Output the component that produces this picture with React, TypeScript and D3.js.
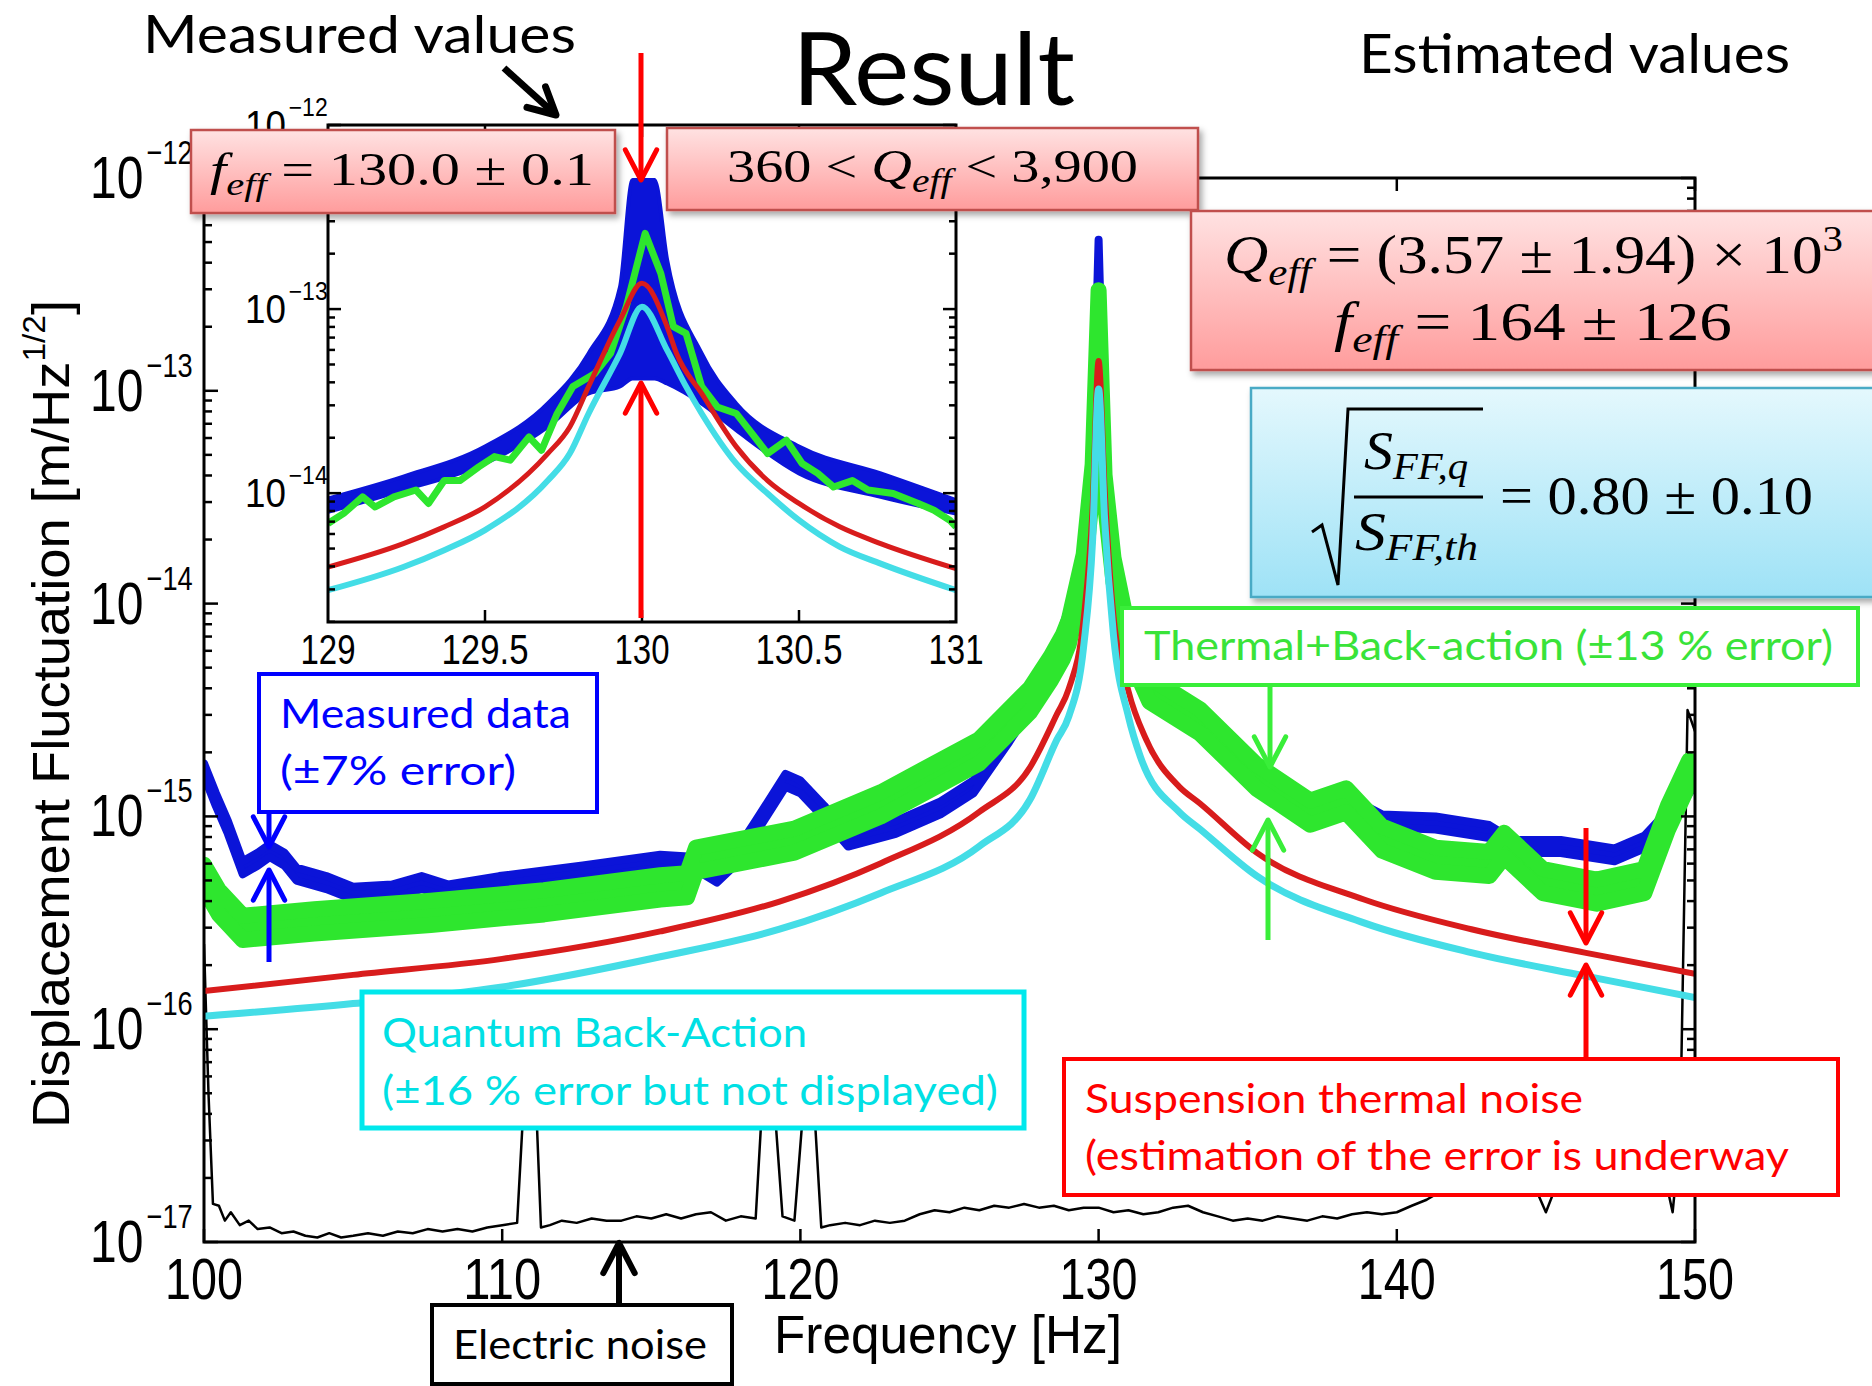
import React from "react";
import * as d3 from "d3";

// ---------- main plot (100 - 150 Hz), amplitudes in m/Hz^1/2 ----------
const measuredFreq = [100.0, 100.4, 100.8, 101.3, 101.8, 102.2, 102.7, 103.1, 104.1, 105.0, 106.3, 107.3, 108.2, 109.9, 112.7, 115.3, 116.5, 117.2, 117.8, 118.5, 119.5, 120.0, 120.8, 121.6, 123.2, 124.7, 125.8, 127.0, 128.0, 128.6, 129.0, 129.5, 129.8, 130.0, 130.2, 130.5, 131.0, 131.6, 132.7, 133.4, 135.3, 137.1, 138.3, 139.5, 141.3, 143.1, 143.9, 145.5, 147.3, 148.3, 149.1, 150.0];
const measuredAmp = [1.66e-15, 1.2e-15, 8.91e-16, 5.75e-16, 6.31e-16, 6.92e-16, 6.31e-16, 5.37e-16, 4.9e-16, 4.37e-16, 4.47e-16, 4.9e-16, 4.47e-16, 4.9e-16, 5.5e-16, 6.17e-16, 6.03e-16, 5.25e-16, 6.31e-16, 8.91e-16, 1.48e-15, 1.38e-15, 1.05e-15, 7.76e-16, 8.91e-16, 1.1e-15, 1.38e-15, 2.4e-15, 3.98e-15, 6.03e-15, 8.91e-15, 1.66e-14, 4.47e-14, 4.79e-13, 4.47e-14, 1.58e-14, 8.51e-15, 3.98e-15, 3.02e-15, 2.69e-15, 1.51e-15, 1.07e-15, 1.17e-15, 9.55e-16, 9.33e-16, 8.51e-16, 7.24e-16, 7.24e-16, 6.61e-16, 7.59e-16, 1.0e-15, 1.51e-15];
const measuredErr = 0.07;

// thermal + back-action
const fitFreq = [100.0, 100.5, 101.3, 103.7, 107.6, 111.4, 115.3, 116.2, 116.5, 119.8, 122.7, 126.0, 127.7, 128.4, 128.8, 129.0, 129.5, 129.8, 130.0, 130.2, 130.5, 131.0, 131.7, 133.4, 135.3, 137.1, 138.3, 139.5, 141.3, 143.1, 143.6, 144.9, 146.7, 148.3, 149.1, 149.8];
const fitAmp = [5.25e-16, 3.98e-16, 3.02e-16, 3.24e-16, 3.55e-16, 3.98e-16, 4.68e-16, 4.79e-16, 6.31e-16, 7.76e-16, 1.15e-15, 2.04e-15, 3.55e-15, 5.01e-15, 6.31e-15, 7.41e-15, 1.51e-14, 3.98e-14, 2.63e-13, 3.55e-14, 1.45e-14, 6.61e-15, 3.98e-15, 2.82e-15, 1.55e-15, 1.05e-15, 1.2e-15, 7.94e-16, 6.31e-16, 6.03e-16, 7.41e-16, 5.01e-16, 4.47e-16, 5.01e-16, 1.0e-15, 1.62e-15];
const fitErr = 0.13;

// suspension thermal noise
const thermalFreq = [100, 105, 110, 115.3, 119.3, 122.7, 126, 127.7, 128.6, 129, 129.5, 129.8, 130, 130.2, 130.5, 131, 131.6, 132.7, 133.4, 135.3, 138.9, 142.5, 146.3, 150];
const thermalAmp = [1.51e-16, 1.8e-16, 2.14e-16, 2.88e-16, 3.98e-16, 6.03e-16, 1.05e-15, 1.7e-15, 3.02e-15, 3.98e-15, 8.51e-15, 2.82e-14, 1.38e-13, 3.47e-14, 8.71e-15, 3.89e-15, 2.29e-15, 1.38e-15, 1.15e-15, 6.76e-16, 4.07e-16, 2.95e-16, 2.29e-16, 1.82e-16];

// quantum back-action
const backActionFreq = [100, 105, 110, 115.3, 119.3, 122.7, 126, 127.7, 128.6, 129, 129.5, 129.8, 130, 130.2, 130.5, 131, 131.4, 132.7, 133.4, 135.3, 138.9, 142.5, 146.3, 150];
const backActionAmp = [1.15e-16, 1.32e-16, 1.58e-16, 2.19e-16, 2.95e-16, 4.37e-16, 7.24e-16, 1.2e-15, 2.29e-15, 2.95e-15, 6.31e-15, 2e-14, 1.02e-13, 2.51e-14, 7.08e-15, 2.95e-15, 1.91e-15, 1.05e-15, 8.71e-16, 5.25e-16, 3.16e-16, 2.29e-16, 1.78e-16, 1.41e-16];

// electric noise [Hz, amplitude]
const noisePoints = [
  [100.0, 2.51e-16], [100.15, 5.01e-17], [100.3, 1.51e-17], [100.5, 1.48e-17], [100.7, 1.26e-17], [100.9, 1.38e-17],
  [101.2, 1.2e-17], [101.5, 1.26e-17], [101.8, 1.15e-17], [102.2, 1.17e-17], [102.6, 1.1e-17], [103.0, 1.12e-17],
  [103.4, 1.07e-17], [103.8, 1.05e-17], [104.2, 1.1e-17], [104.6, 1.05e-17], [105.0, 1.07e-17], [105.5, 1.1e-17],
  [106.0, 1.07e-17], [106.5, 1.12e-17], [107.0, 1.1e-17], [107.5, 1.15e-17], [108.0, 1.12e-17], [108.5, 1.15e-17],
  [109.0, 1.12e-17], [109.5, 1.17e-17], [110.0, 1.2e-17], [110.5, 1.23e-17], [110.7, 4.0e-17], [110.85, 1.1e-16],
  [111.0, 1.1e-16], [111.15, 4.0e-17], [111.3, 1.17e-17], [111.6, 1.2e-17], [112.0, 1.26e-17], [112.5, 1.23e-17],
  [113.0, 1.29e-17], [113.5, 1.26e-17], [114.0, 1.26e-17], [114.5, 1.32e-17], [115.0, 1.29e-17], [115.5, 1.35e-17],
  [116.0, 1.29e-17], [116.5, 1.35e-17], [117.0, 1.38e-17], [117.5, 1.26e-17], [118.0, 1.32e-17], [118.5, 1.29e-17],
  [118.7, 4.0e-17], [118.85, 1.1e-16], [119.0, 1.1e-16], [119.15, 4.0e-17], [119.4, 1.32e-17], [119.8, 1.26e-17],
  [120.05, 3.5e-17], [120.2, 1.0e-16], [120.35, 1.0e-16], [120.5, 3.5e-17], [120.7, 1.17e-17], [121.0, 1.2e-17],
  [121.5, 1.23e-17], [122.0, 1.2e-17], [122.5, 1.26e-17],
  [123.0, 1.23e-17], [123.5, 1.26e-17], [124.0, 1.35e-17], [124.5, 1.41e-17], [125.0, 1.38e-17], [125.5, 1.45e-17],
  [126.0, 1.41e-17], [126.5, 1.48e-17], [127.0, 1.45e-17], [127.5, 1.51e-17], [128.0, 1.45e-17], [128.5, 1.48e-17],
  [129.0, 1.41e-17], [129.5, 1.45e-17], [130.0, 1.45e-17], [130.5, 1.38e-17], [131.0, 1.41e-17], [131.5, 1.35e-17],
  [132.0, 1.38e-17], [132.5, 1.45e-17], [133.0, 1.48e-17], [133.5, 1.38e-17], [134.0, 1.32e-17], [134.5, 1.26e-17],
  [135.0, 1.29e-17], [135.5, 1.26e-17], [136.0, 1.32e-17], [136.5, 1.29e-17], [137.0, 1.26e-17], [137.5, 1.32e-17],
  [138.0, 1.29e-17], [138.5, 1.35e-17], [139.0, 1.38e-17], [139.5, 1.35e-17], [140.0, 1.38e-17], [140.5, 1.48e-17],
  [141.0, 1.58e-17], [141.5, 1.74e-17], [142.0, 1.91e-17], [142.5, 2.0e-17], [143.0, 1.91e-17], [143.5, 2.24e-17],
  [144.0, 2.51e-17], [144.5, 2.0e-17], [145.0, 1.38e-17], [145.5, 2.09e-17], [146.0, 2.4e-17], [146.5, 2.51e-17],
  [147.0, 2.63e-17], [147.5, 2.4e-17], [148.0, 2.51e-17], [148.5, 2.19e-17], [149.0, 2.0e-17], [149.25, 1.38e-17],
  [149.5, 3.16e-17], [149.75, 3.16e-15], [150.0, 2.51e-15],
];

// ---------- inset (129 - 131 Hz) ----------
const insetMeasuredFreq = [129.0, 129.24, 129.5, 129.7, 129.83, 129.93, 129.97, 130.04, 130.08, 130.19, 130.3, 130.5, 130.76, 131.0];
const insetMeasuredHigh = [9.35e-15, 1.23e-14, 1.79e-14, 3.07e-14, 5.74e-14, 1.32e-13, 5.02e-13, 5.02e-13, 1.85e-13, 5.74e-14, 3.07e-14, 1.79e-14, 1.28e-14, 9.16e-15];
const insetMeasuredLow = [7.91e-15, 1.04e-14, 1.45e-14, 2.29e-14, 3.48e-14, 3.8e-14, 4.2e-14, 4.2e-14, 3.94e-14, 3.07e-14, 2.2e-14, 1.28e-14, 9.55e-15, 7.74e-15];

const insetFitFreq = [129.0, 129.05, 129.11, 129.15, 129.21, 129.28, 129.32, 129.37, 129.42, 129.48, 129.53, 129.58, 129.64, 129.68, 129.73, 129.78, 129.85, 129.9, 129.95, 130.01, 130.06, 130.1, 130.14, 130.19, 130.24, 130.3, 130.35, 130.4, 130.46, 130.51, 130.56, 130.61, 130.67, 130.72, 130.8, 130.88, 130.93, 130.98, 131.0];
const insetFitAmp = [6.84e-15, 7.76e-15, 9.55e-15, 8.41e-15, 9.55e-15, 1.04e-14, 8.79e-15, 1.17e-14, 1.17e-14, 1.39e-14, 1.58e-14, 1.51e-14, 2.02e-14, 1.71e-14, 2.71e-14, 3.8e-14, 4.47e-14, 5.74e-14, 1.03e-13, 2.58e-13, 1.56e-13, 8.02e-14, 7.38e-14, 3.8e-14, 2.94e-14, 2.71e-14, 2.11e-14, 1.64e-14, 1.94e-14, 1.45e-14, 1.28e-14, 1.08e-14, 1.17e-14, 1.04e-14, 9.95e-15, 8.79e-15, 8.07e-15, 7.13e-15, 6.56e-15];

const insetThermalFreq = [129.0, 129.24, 129.37, 129.5, 129.7, 129.77, 129.83, 129.93, 130.0, 130.08, 130.11, 130.19, 130.3, 130.4, 130.5, 130.63, 130.76, 131.0];
const insetThermalAmp = [3.97e-15, 5.32e-15, 6.56e-15, 8.43e-15, 1.64e-14, 2.29e-14, 3.8e-14, 8.71e-14, 1.38e-13, 8.02e-14, 5.74e-14, 3.48e-14, 1.79e-14, 1.17e-14, 8.79e-15, 6.56e-15, 5.32e-15, 3.89e-15];

const insetBackActionFreq = [129.0, 129.24, 129.37, 129.5, 129.7, 129.77, 129.83, 129.93, 130.0, 130.08, 130.14, 130.19, 130.3, 130.4, 130.5, 130.63, 130.76, 131.0];
const insetBackActionAmp = [2.97e-15, 3.97e-15, 4.9e-15, 6.3e-15, 1.17e-14, 1.64e-14, 2.71e-14, 5.74e-14, 1.03e-13, 5.98e-14, 3.8e-14, 2.71e-14, 1.45e-14, 9.95e-15, 7.13e-15, 5.11e-15, 4.14e-15, 2.97e-15];

// ticks
const xTicks = [100, 110, 120, 130, 140, 150];
const yDecades = [-17, -16, -15, -14, -13, -12];
const insetXTicks = ["129", "129.5", "130", "130.5", "131"];
const insetDecades = [-14, -13, -12];

const BLUE = "#0b14d8";
const GREEN = "#2ee62e";
const RED = "#d81c1c";
const CYAN = "#44dde6";
const SANS = "Lato, 'Open Sans', sans-serif";
const AXIS = "'Liberation Sans', Arial, sans-serif";
const MATH = "'Liberation Serif', 'DejaVu Serif', serif";

function Arrow({ x1, y1, x2, y2, color, w = 5, head = 34 }) {
  const a = Math.atan2(y2 - y1, x2 - x1);
  const s = 0.48;
  const h1 = [x2 - head * Math.cos(a - s), y2 - head * Math.sin(a - s)];
  const h2 = [x2 - head * Math.cos(a + s), y2 - head * Math.sin(a + s)];
  return (
    <g stroke={color} strokeWidth={w} fill="none" strokeLinecap="round" strokeLinejoin="round">
      <line x1={x1} y1={y1} x2={x2} y2={y2} strokeLinecap="butt" />
      <polyline points={`${h1[0]},${h1[1]} ${x2},${y2} ${h2[0]},${h2[1]}`} />
    </g>
  );
}

export default function App() {
  const x = d3.scaleLinear().domain([100, 150]).range([204, 1695]);
  const y = d3.scaleLog().domain([1e-17, 1e-12]).range([1242, 178]);
  const ix = d3.scaleLinear().domain([129, 131]).range([328, 956]);
  const iy = d3.scaleLog().domain([Math.pow(10, -14.7), 1e-12]).range([622, 125]);

  const zip = (f: number[], a: number[]) => f.map((d, i) => [d, a[i]]);
  const band = (xs, ys, err) =>
    d3.area().x((d) => xs(d[0])).y0((d) => ys(d[1] * (1 - err))).y1((d) => ys(d[1] * (1 + err)));
  const line = (xs, ys, curve = d3.curveLinear) =>
    d3.line().x((d) => xs(d[0])).y((d) => ys(d[1])).curve(curve);

  const measuredBand = band(x, y, measuredErr)(zip(measuredFreq, measuredAmp));
  const fitBand = band(x, y, fitErr)(zip(fitFreq, fitAmp));
  const thermalPath = line(x, y, d3.curveMonotoneX)(zip(thermalFreq, thermalAmp));
  const backPath = line(x, y, d3.curveMonotoneX)(zip(backActionFreq, backActionAmp));
  const noisePath = line(x, y)(noisePoints);

  const insetBand = d3
    .area()
    .x((d) => ix(d[0]))
    .y0((d) => iy(d[1]))
    .y1((d) => iy(d[2]))
    .curve(d3.curveMonotoneX)(insetMeasuredFreq.map((f, i) => [f, insetMeasuredLow[i], insetMeasuredHigh[i]]));
  const insetFitPath = line(ix, iy)(zip(insetFitFreq, insetFitAmp));
  const insetThermalPath = line(ix, iy, d3.curveMonotoneX)(zip(insetThermalFreq, insetThermalAmp));
  const insetBackPath = line(ix, iy, d3.curveMonotoneX)(zip(insetBackActionFreq, insetBackActionAmp));

  const minor = (decades: number[], scale) => {
    const out: number[] = [];
    decades.forEach((d) => {
      for (let k = 2; k <= 9; k++) {
        const v = k * Math.pow(10, d);
        const [lo, hi] = scale.domain();
        if (v > lo && v < hi) out.push(v);
      }
    });
    return out;
  };
  const mainMinor = minor([-17, -16, -15, -14, -13], y);
  const insetMinor = minor([-15, -14, -13], iy);

  return (
    <svg
      width={1872}
      height={1386}
      style={{ position: "absolute", left: 0, top: 0, background: "#fff" }}
      xmlns="http://www.w3.org/2000/svg"
    >
      <defs>
        <clipPath id="mainClip">
          <rect x={204} y={178} width={1491} height={1064} />
        </clipPath>
        <clipPath id="insetClip">
          <rect x={328} y={125} width={628} height={497} />
        </clipPath>
        <linearGradient id="pink" x1="0" y1="0" x2="0" y2="1">
          <stop offset="0" stopColor="#ffe2e2" />
          <stop offset="1" stopColor="#ff9c9c" />
        </linearGradient>
        <linearGradient id="sky" x1="0" y1="0" x2="0" y2="1">
          <stop offset="0" stopColor="#e4f8fd" />
          <stop offset="1" stopColor="#9ee2f6" />
        </linearGradient>
        <filter id="shadow" x="-5%" y="-10%" width="115%" height="140%">
          <feDropShadow dx="3" dy="4" stdDeviation="3" floodColor="#000" floodOpacity="0.35" />
        </filter>
      </defs>
      <rect width={1872} height={1386} fill="#fff" />

      {/* ---------- main plot ---------- */}
      <g clipPath="url(#mainClip)">
        <path d={noisePath} fill="none" stroke="#000" strokeWidth={2.5} strokeLinejoin="round" />
        <path d={measuredBand} fill={BLUE} stroke={BLUE} strokeWidth={8} strokeLinejoin="round" />
        <path d={fitBand} fill={GREEN} stroke={GREEN} strokeWidth={16} strokeLinejoin="round" />
        <path d={thermalPath} fill="none" stroke={RED} strokeWidth={6} />
        <path d={backPath} fill="none" stroke={CYAN} strokeWidth={7} />
      </g>
      <rect x={204} y={178} width={1491} height={1064} fill="none" stroke="#000" strokeWidth={3} />
      <g stroke="#000" strokeWidth={2.5}>
        {xTicks.map((t) => (
          <g key={t}>
            <line x1={x(t)} x2={x(t)} y1={1242} y2={1229} />
            <line x1={x(t)} x2={x(t)} y1={178} y2={191} />
          </g>
        ))}
        {yDecades.map((d) => (
          <g key={d}>
            <line x1={204} x2={218} y1={y(Math.pow(10, d))} y2={y(Math.pow(10, d))} />
            <line x1={1695} x2={1681} y1={y(Math.pow(10, d))} y2={y(Math.pow(10, d))} />
          </g>
        ))}
        {mainMinor.map((v, i) => (
          <g key={i}>
            <line x1={204} x2={212} y1={y(v)} y2={y(v)} />
            <line x1={1695} x2={1687} y1={y(v)} y2={y(v)} />
          </g>
        ))}
      </g>
      <g fontFamily={AXIS} fill="#000">
        {xTicks.map((t) => (
          <text key={t} x={x(t)} y={1299} fontSize={58} textAnchor="middle" textLength={78} lengthAdjust="spacingAndGlyphs">
            {t}
          </text>
        ))}
        {yDecades.map((d) => (
          <g key={d} transform={`translate(90,${y(Math.pow(10, d)) + 20}) scale(0.8,1)`}>
            <text x={0} y={0} fontSize={60}>
              10
              <tspan dx={4} dy={-34} fontSize={34}>{"\u2212" + Math.abs(d)}</tspan>
            </text>
          </g>
        ))}
        <text x={774} y={1353} fontSize={54} textLength={348} lengthAdjust="spacingAndGlyphs">
          Frequency [Hz]
        </text>
        <text transform="translate(69,1128) rotate(-90)" fontSize={52} textLength={828} lengthAdjust="spacingAndGlyphs">
          Displacement Fluctuation [m/Hz
          <tspan fontSize={32} dy={-24}>1/2</tspan>
          <tspan dy={24}>]</tspan>
        </text>
      </g>

      {/* ---------- inset ---------- */}
      <rect x={328} y={125} width={628} height={497} fill="#fff" />
      <g clipPath="url(#insetClip)">
        <path d={insetBand} fill={BLUE} stroke={BLUE} strokeWidth={4} />
        <path d={insetFitPath} fill="none" stroke={GREEN} strokeWidth={7} strokeLinejoin="round" />
        <path d={insetThermalPath} fill="none" stroke={RED} strokeWidth={5} />
        <path d={insetBackPath} fill="none" stroke={CYAN} strokeWidth={6} />
      </g>
      <rect x={328} y={125} width={628} height={497} fill="none" stroke="#000" strokeWidth={3} />
      <g stroke="#000" strokeWidth={2.5}>
        {insetXTicks.slice(1, 4).map((t) => (
          <g key={t}>
            <line x1={ix(+t)} x2={ix(+t)} y1={622} y2={610} />
            <line x1={ix(+t)} x2={ix(+t)} y1={125} y2={137} />
          </g>
        ))}
        {insetDecades.map((d) => (
          <g key={d}>
            <line x1={328} x2={341} y1={iy(Math.pow(10, d))} y2={iy(Math.pow(10, d))} />
            <line x1={956} x2={943} y1={iy(Math.pow(10, d))} y2={iy(Math.pow(10, d))} />
          </g>
        ))}
        {insetMinor.map((v, i) => (
          <g key={i}>
            <line x1={328} x2={335} y1={iy(v)} y2={iy(v)} />
            <line x1={956} x2={949} y1={iy(v)} y2={iy(v)} />
          </g>
        ))}
      </g>
      <g fontFamily={AXIS} fill="#000">
        {insetXTicks.map((t) => (
          <text key={t} x={ix(+t)} y={664} fontSize={42} textAnchor="middle" textLength={t.length > 3 ? 87 : 55} lengthAdjust="spacingAndGlyphs">
            {t}
          </text>
        ))}
        {insetDecades.map((d) => (
          <g key={d} transform={`translate(245,${iy(Math.pow(10, d)) + 14}) scale(0.92,1)`}>
            <text x={0} y={0} fontSize={40}>
              10
              <tspan dx={3} dy={-23} fontSize={25}>{"\u2212" + Math.abs(d)}</tspan>
            </text>
          </g>
        ))}
      </g>

      {/* ---------- result boxes ---------- */}
      <g filter="url(#shadow)">
        <rect x={191} y={130} width={424} height={83} fill="url(#pink)" stroke="#c0504d" strokeWidth={2.5} />
        <rect x={667} y={128} width={531} height={82} fill="url(#pink)" stroke="#c0504d" strokeWidth={2.5} />
        <rect x={1191} y={211} width={700} height={159} fill="url(#pink)" stroke="#c0504d" strokeWidth={2.5} />
        <rect x={1251} y={388} width={640} height={209} fill="url(#sky)" stroke="#4aaac5" strokeWidth={2.5} />
      </g>
      <g fontFamily={MATH} fill="#000">
        <text x={210} y={185} fontSize={46} textLength={384} lengthAdjust="spacingAndGlyphs">
          <tspan fontStyle="italic">f</tspan>
          <tspan fontStyle="italic" fontSize={32} dy={10}>eff</tspan>
          <tspan dy={-10}>{" = 130.0 \u00b1 0.1"}</tspan>
        </text>
        <text x={727} y={182} fontSize={47} textLength={411} lengthAdjust="spacingAndGlyphs">
          {"360 < "}
          <tspan fontStyle="italic">Q</tspan>
          <tspan fontStyle="italic" fontSize={33} dy={10}>eff</tspan>
          <tspan dy={-10}>{" < 3,900"}</tspan>
        </text>
        <text x={1224} y={273} fontSize={54} textLength={619} lengthAdjust="spacingAndGlyphs">
          <tspan fontStyle="italic">Q</tspan>
          <tspan fontStyle="italic" fontSize={38} dy={12}>eff</tspan>
          <tspan dy={-12}>{" = (3.57 \u00b1 1.94) \u00d7 10"}</tspan>
          <tspan fontSize={36} dy={-22}>3</tspan>
        </text>
        <text x={1334} y={340} fontSize={54} textLength={398} lengthAdjust="spacingAndGlyphs">
          <tspan fontStyle="italic">f</tspan>
          <tspan fontStyle="italic" fontSize={38} dy={12}>eff</tspan>
          <tspan dy={-12}>{" = 164 \u00b1 126"}</tspan>
        </text>
        <text x={1364} y={469} fontSize={54} fontStyle="italic" textLength={104} lengthAdjust="spacingAndGlyphs">
          S<tspan fontSize={38} dy={10}>FF,q</tspan>
        </text>
        <text x={1355} y={550} fontSize={54} fontStyle="italic" textLength={123} lengthAdjust="spacingAndGlyphs">
          S<tspan fontSize={38} dy={10}>FF,th</tspan>
        </text>
        <text x={1500} y={514} fontSize={54} textLength={313} lengthAdjust="spacingAndGlyphs">
          {"= 0.80 \u00b1 0.10"}
        </text>
        <line x1={1354} x2={1483} y1={497} y2={497} stroke="#000" strokeWidth={3} />
        <path d="M1312,532 L1322,525 L1338,585 L1348,409 L1483,409" fill="none" stroke="#000" strokeWidth={3} />
      </g>

      {/* ---------- labels ---------- */}
      <g fontFamily={SANS}>
        <text x={143} y={53} fontSize={53} textLength={433} lengthAdjust="spacingAndGlyphs">Measured values</text>
        <text x={792} y={105} fontSize={100} textLength={283} lengthAdjust="spacingAndGlyphs">Result</text>
        <text x={1359} y={73} fontSize={54} textLength={431} lengthAdjust="spacingAndGlyphs">Estimated values</text>

        <rect x={259} y={674} width={338} height={138} fill="#fff" stroke="#0000ff" strokeWidth={4} />
        <text x={280} y={728} fontSize={40} fill="#0000ff" textLength={291} lengthAdjust="spacingAndGlyphs">Measured data</text>
        <text x={280} y={785} fontSize={40} fill="#0000ff" textLength={236} lengthAdjust="spacingAndGlyphs">(±7% error)</text>

        <rect x={1122} y={608} width={736} height={77} fill="#fff" stroke="#39ee39" strokeWidth={4} />
        <text x={1144} y={660} fontSize={40} fill="#39e339" textLength={689} lengthAdjust="spacingAndGlyphs">
          Thermal+Back-action (±13 % error)
        </text>

        <rect x={362} y={992} width={662} height={136} fill="#fff" stroke="#00e8ec" strokeWidth={5} />
        <text x={382} y={1047} fontSize={40} fill="#00e0e4" textLength={425} lengthAdjust="spacingAndGlyphs">Quantum Back-Action</text>
        <text x={382} y={1105} fontSize={40} fill="#00e0e4" textLength={616} lengthAdjust="spacingAndGlyphs">
          (±16 % error but not displayed)
        </text>

        <rect x={1064} y={1059} width={774} height={136} fill="#fff" stroke="#ff0000" strokeWidth={4} />
        <text x={1085} y={1113} fontSize={40} fill="#ff0000" textLength={498} lengthAdjust="spacingAndGlyphs">
          Suspension thermal noise
        </text>
        <text x={1085} y={1170} fontSize={40} fill="#ff0000" textLength={704} lengthAdjust="spacingAndGlyphs">
          (estimation of the error is underway
        </text>

        <rect x={432} y={1305} width={300} height={79} fill="#fff" stroke="#000" strokeWidth={4} />
        <text x={453} y={1359} fontSize={40} fill="#000" textLength={254} lengthAdjust="spacingAndGlyphs">Electric noise</text>
      </g>

      {/* ---------- arrows ---------- */}
      <Arrow x1={504} y1={68} x2={556} y2={115} color="#000" w={7} head={30} />
      <Arrow x1={641} y1={53} x2={641} y2={180} color="#ff0000" w={5} />
      <Arrow x1={641} y1={618} x2={641} y2={383} color="#ff0000" w={5} />
      <Arrow x1={269} y1={812} x2={269} y2={847} color="#0000ff" w={5} />
      <Arrow x1={269} y1={962} x2={269} y2={870} color="#0000ff" w={5} />
      <Arrow x1={1270} y1={687} x2={1270} y2={767} color="#39ee39" w={5} />
      <Arrow x1={1268} y1={940} x2={1268} y2={820} color="#39ee39" w={5} />
      <Arrow x1={1586} y1={828} x2={1586} y2={943} color="#ff0000" w={5} />
      <Arrow x1={1586} y1={1058} x2={1586} y2={965} color="#ff0000" w={5} />
      <Arrow x1={619} y1={1305} x2={619} y2={1243} color="#000" w={6} />
    </svg>
  );
}
